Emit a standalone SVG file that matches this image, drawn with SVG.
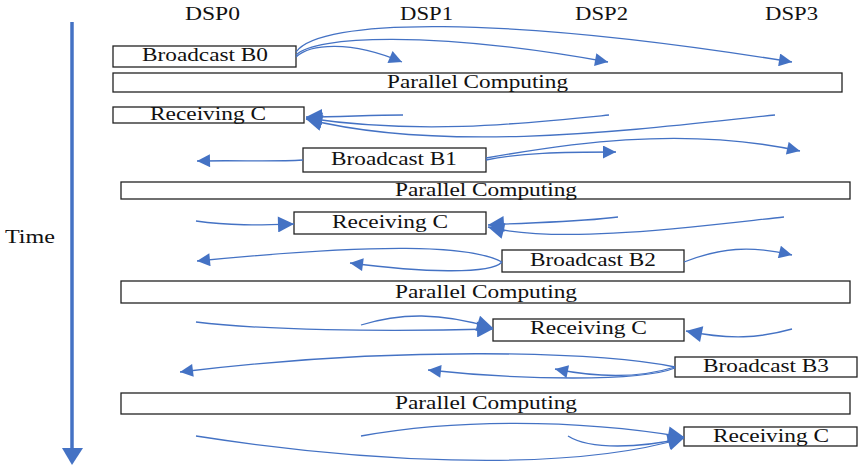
<svg xmlns="http://www.w3.org/2000/svg" width="858" height="468" viewBox="0 0 858 468">
  <style>
    text { font-family: "Liberation Serif", "Times New Roman", serif; font-size: 19px; fill: #111; }
    .box { fill: #fff; stroke: #222; stroke-width: 1.3; }
    .msg { fill: none; stroke: #4472C4; stroke-width: 1.3; marker-end: url(#head); }
    .rcv { fill: none; stroke: #4472C4; stroke-width: 1.3; marker-end: url(#bighead); }
  </style>
  <defs>
    <marker id="head" viewBox="0 0 10 10" refX="10" refY="5" markerUnits="userSpaceOnUse" markerWidth="17" markerHeight="13" orient="auto">
      <path d="M0,0 L10,5 L0,10 z" fill="#4472C4"/>
    </marker>
    <marker id="bighead" viewBox="0 0 10 10" refX="10" refY="5" markerUnits="userSpaceOnUse" markerWidth="17" markerHeight="16" orient="auto">
      <path d="M0,0 L10,5 L0,10 z" fill="#4472C4"/>
    </marker>
  </defs>

  <!-- time axis -->
  <g id="time-axis">
    <line x1="72" y1="22" x2="72" y2="450" stroke="#4472C4" stroke-width="3.5"/>
    <polygon points="62,448 83,448 72,465" fill="#4472C4"/>
    <text x="5" y="243" textLength="50" lengthAdjust="spacingAndGlyphs">Time</text>
  </g>

  <!-- processor headers -->
  <g id="headers">
    <text x="185" y="20" textLength="55" lengthAdjust="spacingAndGlyphs">DSP0</text>
    <text x="400" y="20" textLength="53" lengthAdjust="spacingAndGlyphs">DSP1</text>
    <text x="575" y="20" textLength="53" lengthAdjust="spacingAndGlyphs">DSP2</text>
    <text x="765" y="20" textLength="53" lengthAdjust="spacingAndGlyphs">DSP3</text>
  </g>

  <!-- phase boxes -->
  <g id="broadcast-b0">
    <rect class="box" x="113" y="46" width="183" height="21"/>
    <text x="142" y="61" textLength="126" lengthAdjust="spacingAndGlyphs">Broadcast B0</text>
  </g>
  <g id="parallel-1">
    <rect class="box" x="113" y="73" width="729" height="19"/>
    <text x="387" y="88" textLength="181" lengthAdjust="spacingAndGlyphs">Parallel Computing</text>
  </g>
  <g id="receiving-1">
    <rect class="box" x="113" y="107" width="191" height="16"/>
    <text x="150" y="120" textLength="116" lengthAdjust="spacingAndGlyphs">Receiving C</text>
  </g>
  <g id="broadcast-b1">
    <rect class="box" x="303" y="148" width="183" height="24"/>
    <text x="331" y="165" textLength="126" lengthAdjust="spacingAndGlyphs">Broadcast B1</text>
  </g>
  <g id="parallel-2">
    <rect class="box" x="121" y="182" width="729" height="17"/>
    <text x="395" y="196" textLength="182" lengthAdjust="spacingAndGlyphs">Parallel Computing</text>
  </g>
  <g id="receiving-2">
    <rect class="box" x="294" y="212" width="192" height="22"/>
    <text x="332" y="228" textLength="116" lengthAdjust="spacingAndGlyphs">Receiving C</text>
  </g>
  <g id="broadcast-b2">
    <rect class="box" x="502" y="250" width="182" height="22"/>
    <text x="530" y="266" textLength="126" lengthAdjust="spacingAndGlyphs">Broadcast B2</text>
  </g>
  <g id="parallel-3">
    <rect class="box" x="121" y="281" width="729" height="22"/>
    <text x="395" y="298" textLength="182" lengthAdjust="spacingAndGlyphs">Parallel Computing</text>
  </g>
  <g id="receiving-3">
    <rect class="box" x="493" y="319" width="191" height="22"/>
    <text x="530" y="334" textLength="117" lengthAdjust="spacingAndGlyphs">Receiving C</text>
  </g>
  <g id="broadcast-b3">
    <rect class="box" x="675" y="357" width="182" height="20"/>
    <text x="703" y="372" textLength="126" lengthAdjust="spacingAndGlyphs">Broadcast B3</text>
  </g>
  <g id="parallel-4">
    <rect class="box" x="121" y="393" width="729" height="21"/>
    <text x="395" y="409" textLength="182" lengthAdjust="spacingAndGlyphs">Parallel Computing</text>
  </g>
  <g id="receiving-4">
    <rect class="box" x="684" y="427" width="173" height="19"/>
    <text x="713" y="442" textLength="116" lengthAdjust="spacingAndGlyphs">Receiving C</text>
  </g>

  <!-- messages between processors -->
  <g id="connectors">
    <!-- B0 broadcast -->
    <path class="msg" d="M296,57 C310,44 350,40 402,62"/>
    <path class="msg" d="M296,55 C315,36 430,30 608,62"/>
    <path class="msg" d="M296,52 C320,18 500,15 792,62"/>
    <!-- gather into DSP0 -->
    <path class="rcv" d="M403,115 C370,115 340,117 306,117"/>
    <path class="rcv" d="M609,115 C520,124 420,135 306,118"/>
    <path class="rcv" d="M775,115 C650,128 450,155 306,119"/>
    <!-- B1 broadcast -->
    <path class="msg" d="M303,160 C270,162 240,160 197,161"/>
    <path class="msg" d="M486,160 C520,153 560,152 616,152"/>
    <path class="msg" d="M486,158 C560,145 680,125 800,151"/>
    <!-- gather into DSP1 -->
    <path class="rcv" d="M196,221 C230,226 260,225 294,224"/>
    <path class="rcv" d="M618,217 C580,222 540,222 488,225"/>
    <path class="rcv" d="M784,217 C700,226 560,245 488,227"/>
    <!-- B2 broadcast -->
    <path class="msg" d="M502,262 C470,245 380,243 197,261"/>
    <path class="msg" d="M502,262 C490,275 420,272 350,263"/>
    <path class="msg" d="M684,262 C720,248 750,245 792,255"/>
    <!-- gather into DSP2 -->
    <path class="rcv" d="M196,322 C260,330 380,332 493,329"/>
    <path class="rcv" d="M361,325 C400,313 440,312 493,328"/>
    <path class="rcv" d="M792,329 C760,338 730,340 686,331"/>
    <!-- B3 broadcast -->
    <path class="msg" d="M675,367 C600,352 400,345 180,372"/>
    <path class="msg" d="M675,368 C640,382 520,380 428,370"/>
    <path class="msg" d="M675,367 C640,378 600,378 555,369"/>
    <!-- gather into DSP3 -->
    <path class="rcv" d="M196,436 C350,460 560,475 684,438"/>
    <path class="rcv" d="M361,436 C450,420 570,418 684,437"/>
    <path class="rcv" d="M568,436 C590,450 640,448 684,438"/>
  </g>
</svg>
